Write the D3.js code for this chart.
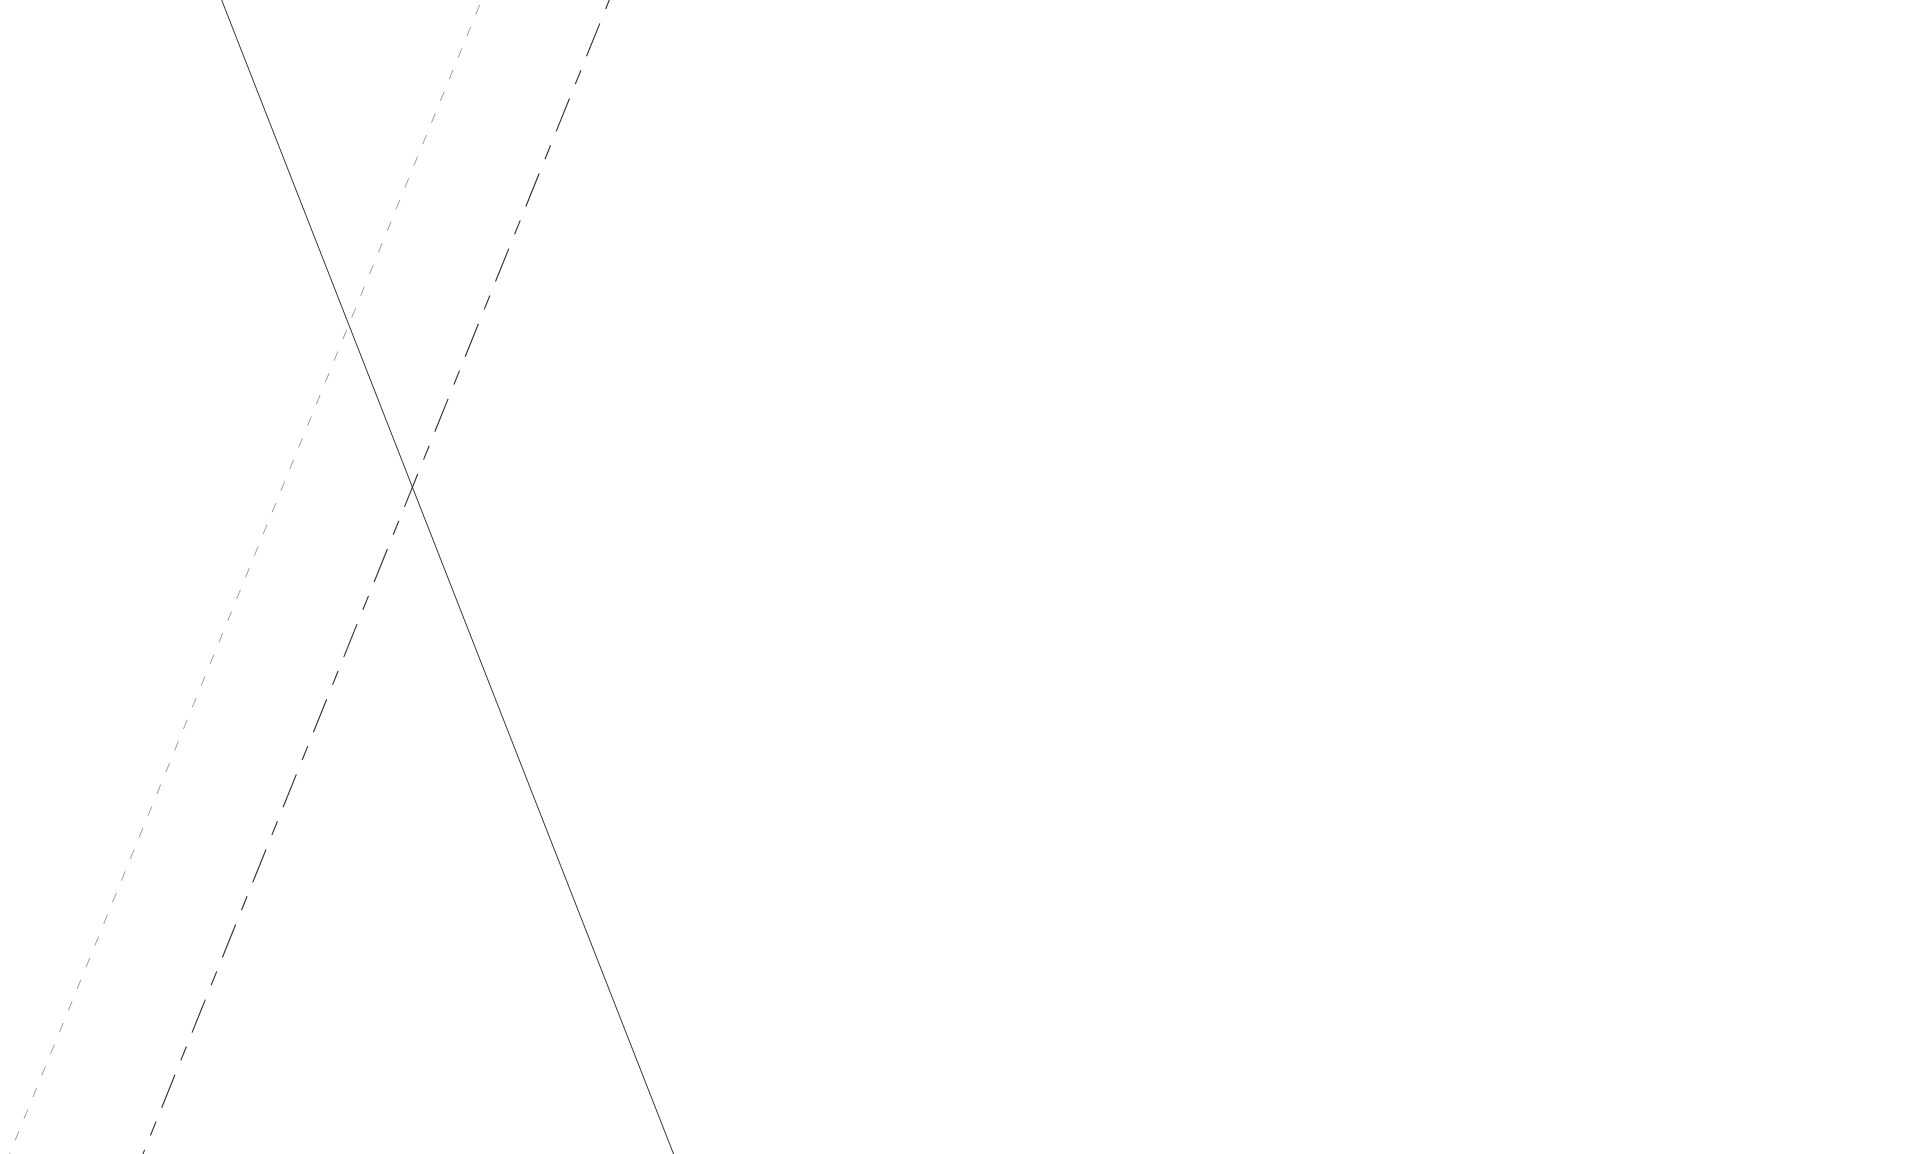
<!DOCTYPE html>
<html>
<head>
<meta charset="utf-8">
<script src="https://cdn.jsdelivr.net/npm/d3@7"></script>
<style>
  html, body { margin: 0; padding: 0; background: #fff; overflow: hidden; }
</style>
</head>
<body>
<div id="chart"></div>
<script>
// Canvas
const width = 1919,
  height = 1154

// Data: each series is read at the top and bottom edge of the frame
const levels = [0, 1]
const solidSeries = [2.31, 7.02]
const longDashSeries = [6.35, 1.49]
const lightDashSeries = [5.02, 0.10]

const svg = d3.select('#chart')
  .append('svg')
  .attr('width', width)
  .attr('height', height)

const xScale = d3.scaleLinear()
  .domain([0, 20])
  .range([0, width])

const yScale = d3.scaleLinear()
  .domain([0, 1])
  .range([0, height])

const line = d3.line()
  .x(d => xScale(d.x))
  .y(d => yScale(d.y))

const toPoints = (values) => values.map((v, i) => ({ x: v, y: levels[i] }))

// light grey short dashes
svg.append('path')
  .datum(toPoints(lightDashSeries))
  .attr('d', line)
  .attr('fill', 'none')
  .attr('stroke', '#9c9c9c')
  .attr('stroke-width', 1)
  .attr('stroke-dasharray', '10,13.4')
  .attr('stroke-dashoffset', 18)

// dark long-short dashes
svg.append('path')
  .datum(toPoints(longDashSeries))
  .attr('d', line)
  .attr('fill', 'none')
  .attr('stroke', '#2e2e2e')
  .attr('stroke-width', 1.1)
  .attr('stroke-dasharray', '35.5,15,15,15.5')
  .attr('stroke-dashoffset', 55.8)

// solid line
svg.append('path')
  .datum(toPoints(solidSeries))
  .attr('d', line)
  .attr('fill', 'none')
  .attr('stroke', '#333')
  .attr('stroke-width', 1)
</script>
</body>
</html>
